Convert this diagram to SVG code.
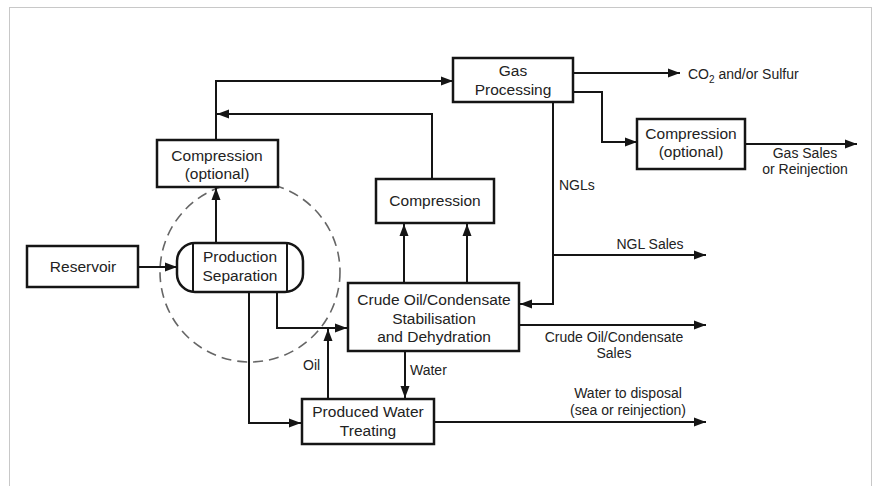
<svg xmlns="http://www.w3.org/2000/svg" width="875" height="486" viewBox="0 0 875 486">
<style>
.box{fill:#fff;stroke:#151515;stroke-width:2.5}
.ln{fill:none;stroke:#151515;stroke-width:2}
.arr{marker-end:url(#ah)}
text{font-family:"Liberation Sans",Arial,sans-serif;fill:#222}
.t{font-size:15.5px;text-anchor:middle}
.l{font-size:14px}
.lc{font-size:14px;text-anchor:middle}
</style>
<defs>
<marker id="ah" markerUnits="userSpaceOnUse" markerWidth="13" markerHeight="10" refX="12" refY="5" orient="auto">
<path d="M0,0.5 L12,5 L0,9.5 z" fill="#151515"/>
</marker>
</defs>
<rect width="875" height="486" fill="#fff"/>
<rect x="9.5" y="7.5" width="862" height="490" fill="none" stroke="#c8c8c8" stroke-width="1"/>
<circle cx="250" cy="272" r="90" fill="none" stroke="#666" stroke-width="1.6" stroke-dasharray="10,6"/>
<g id="connectors">
<path class="ln arr" d="M138,267 H177"/>
<path class="ln arr" d="M216,243 V188"/>
<path class="ln arr" d="M216,140 V81 H453"/>
<path class="ln arr" d="M432,179 V114 H217"/>
<path class="ln arr" d="M573,73 H680"/>
<path class="ln arr" d="M573,92 H602 V142 H637"/>
<path class="ln arr" d="M745,144 H857"/>
<path class="ln arr" d="M553,102 V304 H520"/>
<path class="ln arr" d="M553,255 H706"/>
<path class="ln arr" d="M404,283 V224"/>
<path class="ln arr" d="M467,283 V224"/>
<path class="ln arr" d="M519,325 H706"/>
<path class="ln arr" d="M405,351 V398"/>
<path class="ln arr" d="M277,292 V328 H347"/>
<path class="ln arr" d="M249,292 V423 H301"/>
<path class="ln arr" d="M328,399 V329"/>
<path class="ln arr" d="M434,422 H706"/>
</g>
<g id="reservoir">
<rect class="box" x="27" y="246" width="111" height="41"/>
<text class="t" x="83" y="272">Reservoir</text>
</g>
<g id="production-separation">
<rect class="box" x="177" y="243" width="126" height="49" rx="18" ry="18"/>
<line class="ln" x1="193" y1="244" x2="193" y2="291" stroke-width="1.5"/>
<line class="ln" x1="287" y1="244" x2="287" y2="291" stroke-width="1.5"/>
<text class="t" x="240" y="262">Production</text>
<text class="t" x="240" y="281">Separation</text>
</g>
<g id="compression-optional-left">
<rect class="box" x="157" y="140" width="121" height="47"/>
<text class="t" x="217" y="161">Compression</text>
<text class="t" x="217" y="179">(optional)</text>
</g>
<g id="gas-processing">
<rect class="box" x="453" y="58" width="120" height="44"/>
<text class="t" x="513" y="76">Gas</text>
<text class="t" x="513" y="95">Processing</text>
</g>
<g id="compression-optional-right">
<rect class="box" x="637" y="119" width="108" height="50"/>
<text class="t" x="691" y="139">Compression</text>
<text class="t" x="691" y="157">(optional)</text>
</g>
<g id="compression">
<rect class="box" x="376" y="179" width="118" height="44"/>
<text class="t" x="435" y="206">Compression</text>
</g>
<g id="crude-stabilisation">
<rect class="box" x="348" y="283" width="171" height="68"/>
<text class="t" x="434" y="305">Crude Oil/Condensate</text>
<text class="t" x="434" y="324">Stabilisation</text>
<text class="t" x="434" y="342">and Dehydration</text>
</g>
<g id="produced-water">
<rect class="box" x="302" y="399" width="132" height="45"/>
<text class="t" x="368" y="417">Produced Water</text>
<text class="t" x="368" y="436">Treating</text>
</g>
<g id="labels">
<text class="l" x="688" y="79">CO<tspan font-size="10" dy="4">2</tspan><tspan dy="-4"> and/or Sulfur</tspan></text>
<text class="lc" x="805" y="158">Gas Sales</text>
<text class="lc" x="805" y="174">or Reinjection</text>
<text class="l" x="559" y="190">NGLs</text>
<text class="lc" x="650" y="249">NGL Sales</text>
<text class="lc" x="614" y="342">Crude Oil/Condensate</text>
<text class="lc" x="614" y="358">Sales</text>
<text class="l" x="410" y="375">Water</text>
<text class="l" x="303" y="370">Oil</text>
<text class="lc" x="628" y="398">Water to disposal</text>
<text class="lc" x="628" y="415">(sea or reinjection)</text>
</g>
</svg>
